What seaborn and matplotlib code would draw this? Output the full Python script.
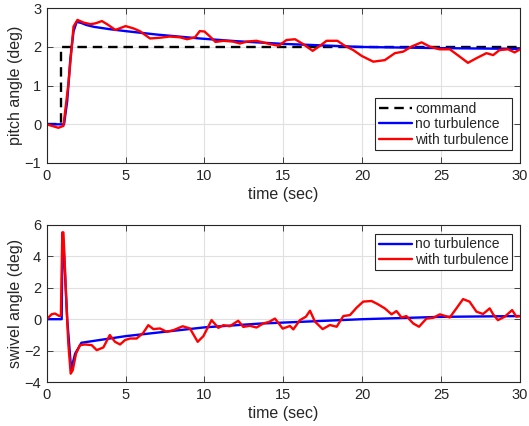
import numpy as np
import pandas as pd
import matplotlib
matplotlib.use("Agg")
import matplotlib.pyplot as plt
import seaborn as sns

# ---- data ----
cmd_t = [0.0, 0.9, 0.9, 30.0]
cmd_v = [0.0, 0.0, 2.0, 2.0]

pitch_nt_t = [0.0, 1.1, 1.3, 1.5, 1.7, 1.9, 2.2, 2.5, 3.0, 4.0, 5.0, 7.0, 9.7, 12.0, 15.0, 20.0, 25.0, 30.0]
pitch_nt_v = [0.0, 0.0, 0.6, 1.7, 2.4, 2.65, 2.62, 2.57, 2.52, 2.46, 2.41, 2.32, 2.22, 2.15, 2.08, 2.0, 1.97, 1.95]

pitch_wt_t = [0.0, 0.74, 1.06, 1.38, 1.7, 1.95, 2.34, 2.77, 3.08, 3.5, 3.9, 4.35, 5.0, 5.5, 5.9,
              6.55, 7.2, 7.8, 8.45, 8.9, 9.4, 9.7, 10.0, 10.35, 10.7, 11.2, 11.8, 12.25, 12.7, 13.3,
              14.1, 14.7, 15.2, 15.74, 16.27, 16.86, 17.32, 17.74, 18.42, 18.9, 19.43, 19.96, 20.7,
              21.43, 22.07, 22.6, 23.12, 23.76, 24.28, 24.9, 25.55, 26.18, 26.7, 27.24, 27.87, 28.3,
              28.7, 29.24, 29.66, 30.0]
pitch_wt_v = [0.0, -0.09, -0.04, 1.06, 2.53, 2.7, 2.63, 2.59, 2.61, 2.67, 2.57, 2.44, 2.54, 2.48, 2.41,
              2.22, 2.24, 2.27, 2.25, 2.2, 2.25, 2.41, 2.4, 2.27, 2.13, 2.16, 2.14, 2.09, 2.14, 2.16,
              2.08, 2.03, 2.18, 2.2, 2.07, 1.9, 2.03, 2.16, 2.16, 2.03, 1.92, 1.77, 1.62,
              1.66, 1.84, 1.88, 2.01, 2.12, 2.01, 1.94, 1.94, 1.75, 1.59, 1.71, 1.84, 1.79,
              1.92, 1.94, 1.86, 1.94]

swivel_nt_t = [0.0, 0.95, 1.0, 1.08, 1.3, 1.55, 1.8, 2.2, 5.0, 10.0, 13.5, 20.0, 25.0, 30.0]
swivel_nt_v = [0.0, 0.0, 5.5, 4.5, 0.0, -3.2, -2.2, -1.5, -1.08, -0.52, -0.28, 0.0, 0.15, 0.2]

swivel_wt_t = [0.0, 0.32, 0.53, 0.8, 0.9, 0.99, 1.06, 1.27, 1.37, 1.52, 1.65, 1.86, 2.11, 2.43, 2.85,
               3.17, 3.59, 4.0, 4.33, 4.65, 4.96, 5.28, 5.7, 6.12, 6.44, 6.76, 7.18, 7.6, 8.03, 8.62,
               9.08, 9.57, 9.93, 10.45, 10.88, 11.2, 11.6, 12.14, 12.46, 12.88, 13.3, 13.73, 14.1,
               14.47, 14.96, 15.42, 15.63, 16.05, 16.43, 16.69, 17.0, 17.49, 17.95, 18.38, 18.8,
               19.22, 19.64, 20.06, 20.59, 21.0, 21.43, 21.86, 22.17, 22.49, 22.8, 23.23, 23.6,
               24.07, 24.5, 24.92, 25.55, 25.97, 26.39, 26.8, 27.24, 27.66, 28.08, 28.3, 28.6,
               29.03, 29.5, 29.77, 30.0]
swivel_wt_v = [0.0, 0.32, 0.36, 0.2, 0.25, 5.53, 5.53, 0.58, -1.55, -3.47, -3.25, -2.19, -1.65, -1.61, -1.65,
               -1.97, -1.8, -1.01, -1.44, -1.61, -1.33, -1.23, -1.23, -0.87, -0.38, -0.63, -0.59, -0.8, -0.7, -0.45,
               -0.59, -1.44, -1.08, -0.06, -0.55, -0.38, -0.45, -0.1, -0.49, -0.42, -0.53, -0.27, -0.17,
               0.04, -0.6, -0.43, -0.65, -0.06, 0.16, 0.54, -0.15, -0.63, -0.37, -0.48, 0.2,
               0.26, 0.73, 1.12, 1.16, 0.95, 0.69, 0.31, 0.52, 0.11, 0.2, -0.27, -0.48,
               0.04, 0.09, 0.31, 0.11, 0.69, 1.28, 1.12, 0.48, 0.33, 0.69, 0.31, -0.06,
               0.16, 0.58, 0.16, 0.2]

x_ticks = [0, 5, 10, 15, 20, 25, 30]
pitch_yticks = [-1, 0, 1, 2, 3]
swivel_yticks = [-4, -2, 0, 2, 4, 6]

# ---- style ----
sns.set_theme(style="whitegrid")
plt.rcParams['font.family'] = ['Liberation Sans', 'DejaVu Sans']

fig = plt.figure(figsize=(5.29, 4.26), dpi=100)
W, H = 529, 426
ax1 = fig.add_axes([46.7 / W, (H - 163) / H, (520 - 46.7) / W, (163 - 8.3) / H])
ax2 = fig.add_axes([46.7 / W, (H - 382) / H, (520 - 46.7) / W, (382 - 225) / H])

lw = 1.7
sns.lineplot(x=cmd_t, y=cmd_v, ax=ax1, color="black", linewidth=lw, linestyle=(0, (4, 2.5)),
             estimator=None, sort=False, label="command")
sns.lineplot(x=pitch_nt_t, y=pitch_nt_v, ax=ax1, color="#0000ff", linewidth=lw,
             estimator=None, sort=False, label="no turbulence")
sns.lineplot(x=pitch_wt_t, y=pitch_wt_v, ax=ax1, color="#ff0000", linewidth=lw,
             estimator=None, sort=False, label="with turbulence")

sns.lineplot(x=swivel_nt_t, y=swivel_nt_v, ax=ax2, color="#0000ff", linewidth=lw,
             estimator=None, sort=False, label="no turbulence")
sns.lineplot(x=swivel_wt_t, y=swivel_wt_v, ax=ax2, color="#ff0000", linewidth=lw,
             estimator=None, sort=False, label="with turbulence")

for ax, yt, ylab in [(ax1, pitch_yticks, "pitch angle (deg)"), (ax2, swivel_yticks, "swivel angle (deg)")]:
    ax.set_xlim(0, 30)
    ax.set_ylim(yt[0], yt[-1])
    ax.set_xticks(x_ticks)
    ax.set_yticks(yt)
    ax.set_facecolor("white")
    ax.grid(True, color="#e0e0e0", linewidth=0.8)
    for s in ax.spines.values():
        s.set_color("#262626")
        s.set_linewidth(0.8)
        s.set_visible(True)
    ax.tick_params(direction="in", length=4, width=0.6, color="#262626",
                   top=True, right=True, bottom=True, left=True,
                   labelsize=10.5, labelcolor="#262626")
    ax.tick_params(axis="x", pad=4.5)
    ax.tick_params(axis="y", pad=4)
    ax.set_xlabel("time (sec)", fontsize=11.5, color="#262626", labelpad=2.5)
    ax.set_ylabel(ylab, fontsize=11.5, color="#262626", labelpad=1)

for leg_ax, loc, yanchor in [(ax1, "lower right", (H - 150) / H), (ax2, "upper right", (H - 234) / H)]:
    leg = leg_ax.legend(loc=loc, bbox_to_anchor=(512.3 / W, yanchor), bbox_transform=fig.transFigure,
                        fontsize=10, frameon=True, fancybox=False, handlelength=2.4, handletextpad=0.2,
                        borderpad=0.25, labelspacing=0.1, borderaxespad=0)
    leg.get_frame().set_edgecolor("#262626")
    leg.get_frame().set_linewidth(0.8)
    leg.get_frame().set_alpha(1)

fig.savefig("out.png", dpi=100, facecolor="white")
